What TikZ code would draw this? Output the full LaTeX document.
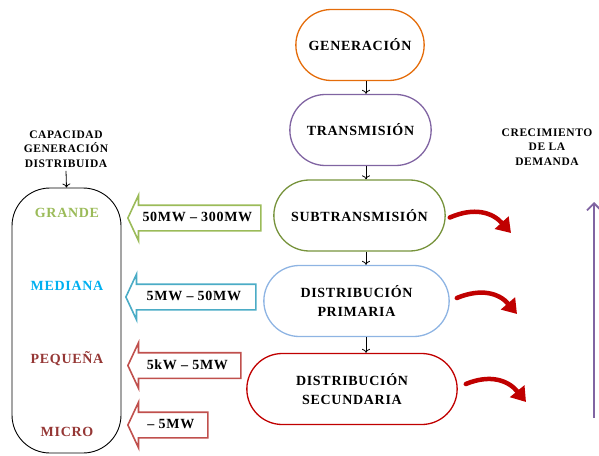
\documentclass[tikz,border=0pt]{standalone}
\usepackage{fontspec}
\setmainfont{Liberation Serif}
\newfontfamily\spacedfont[LetterSpace=5]{Liberation Serif}
\usepackage{tikz}
\usetikzlibrary{arrows.meta,shapes.arrows,shapes.misc}

\definecolor{genOrange}{HTML}{E46C0A}
\definecolor{traPurple}{HTML}{8064A2}
\definecolor{subGreen}{HTML}{77933C}
\definecolor{priBlue}{HTML}{8EB4E3}
\definecolor{secRed}{HTML}{C00000}
\definecolor{capGreen}{HTML}{9BBB59}
\definecolor{capCyan}{HTML}{4BACC6}
\definecolor{capRed}{HTML}{C0504D}
\definecolor{medCyan}{HTML}{00B0F0}
\definecolor{pequeRed}{HTML}{953735}

\newcommand{\etapafont}{\spacedfont\bfseries\fontsize{14}{19}\selectfont}
\newcommand{\titlefont}{\spacedfont\bfseries\fontsize{11.5}{14.5}\selectfont}

\tikzset{
  etapa/.style={rounded rectangle, draw, line width=1.3pt, minimum height=71pt, align=center, font=\etapafont},
  encabezado/.style={align=center, font=\titlefont},
  categoria/.style={font=\etapafont},
  flujo/.style={-{To[length=4pt,width=8pt]}, line width=0.8pt},
  bloque/.style={single arrow, shape border rotate=180, draw, fill=white, line width=1.6pt,
    single arrow head extend=10pt, single arrow tip angle=130, text height=10pt, text depth=3pt,
    inner ysep=5.5pt, inner xsep=1pt, anchor=tip, font=\etapafont},
  crece/.style={secRed, line width=4.5pt, line cap=round, -{Triangle[length=14pt,width=18pt]}},
  demanda/.style={traPurple, line width=1.8pt, -{Straight Barb[length=7pt,width=14pt]}}
}

\begin{document}
\begin{tikzpicture}[x=1pt,y=-1pt]
  \useasboundingbox (0,0) rectangle (599,455);

  \node[etapa, draw=genOrange, minimum width=135pt] (gen) at (360,45) {GENERACIÓN};
  \node[etapa, draw=traPurple, minimum width=148pt] (tra) at (360.5,130) {TRANSMISIÓN};
  \node[etapa, draw=subGreen, minimum width=178pt] (sub) at (359.5,215.5) {SUBTRANSMISIÓN};
  \node[etapa, draw=priBlue, minimum width=192pt] (pri) at (356.5,301) {DISTRIBUCIÓN\\PRIMARIA};
  \node[etapa, draw=secRed, minimum width=217pt] (sec) at (352,389) {DISTRIBUCIÓN\\SECUNDARIA};

  \coordinate (flujoX) at (366,0);
  \foreach \a/\b in {gen/tra,tra/sub,sub/pri,pri/sec}
    \draw[flujo] (\a.south -| flujoX) -- (\b.north -| flujoX);

  \node[encabezado] (capTitle) at (66,149) {CAPACIDAD\\GENERACIÓN\\DISTRIBUIDA};
  \node[draw, line width=0.9pt, rounded corners=38pt, minimum width=109pt, minimum height=265pt] (capBox) at (66.5,320.5) {};
  \draw[flujo] (capTitle.south) -- (capBox.north);

  \node[categoria, text=capGreen] (grande) at (67,213) {GRANDE};
  \node[categoria, text=medCyan] (mediana) at (67,286) {MEDIANA};
  \node[categoria, text=pequeRed] (pequena) at (67,359) {PEQUEÑA};
  \node[categoria, text=pequeRed] (micro) at (67,432) {MICRO};

  \node[bloque, draw=capGreen, minimum height=133pt] (flechaGrande) at (127,218) {50MW – 300MW};
  \node[bloque, draw=capCyan, minimum height=130pt] (flechaMediana) at (125,297) {5MW – 50MW};
  \node[bloque, draw=capRed, minimum height=113pt] (flechaPequena) at (127,365.5) {5kW – 5MW};
  \node[bloque, draw=capRed, minimum height=80pt] (flechaMicro) at (127,425) {– 5MW};

  \coordinate (creceA) at (511,233);
  \coordinate (creceB) at (517,314);
  \coordinate (creceC) at (526,402);
  \draw[crece] ([shift={(4,2)}]sub.east) .. controls (474,207) and (492,212) .. (creceA);
  \draw[crece] ([shift={(7,-3)}]pri.east) .. controls (481,288) and (499,293) .. (creceB);
  \draw[crece] ([shift={(8,-5)}]sec.east) .. controls (490,374) and (508,380) .. (creceC);

  \node[encabezado] (demTitle) at (547,147) {CRECIMIENTO\\DE LA\\DEMANDA};
  \coordinate (demBase) at (594,418);
  \coordinate (demTop) at (594,202);
  \draw[demanda] (demBase) -- (demTop);
\end{tikzpicture}
\end{document}
